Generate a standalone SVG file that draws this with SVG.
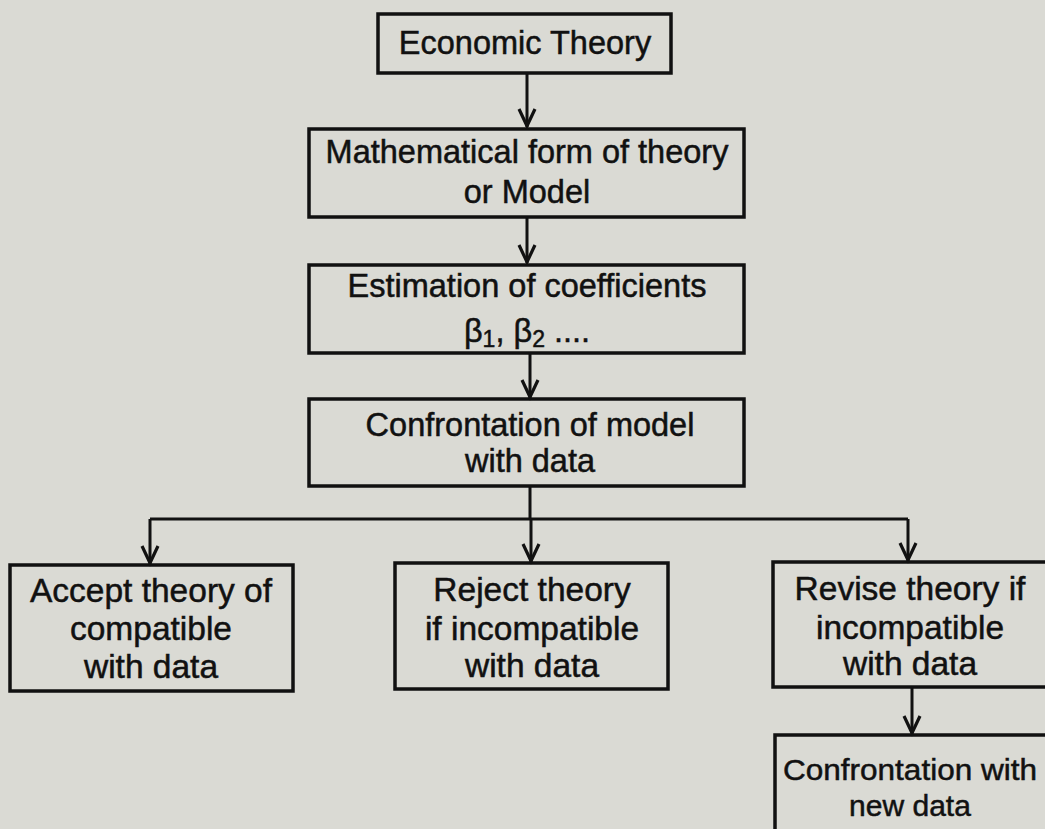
<svg xmlns="http://www.w3.org/2000/svg" width="1045" height="829" viewBox="0 0 1045 829">
<defs>
<style>
.box{fill:none;stroke:#111;stroke-width:3.5}
.t{font-family:"Liberation Sans",Arial,sans-serif;font-size:32.5px;fill:#111;stroke:#111;stroke-width:0.5;text-anchor:middle}
.b{font-size:33.5px}
.n{font-size:30px}
.c{fill:none;stroke:#111;stroke-width:3}
.h{fill:none;stroke:#111;stroke-width:3.2}
</style>
</defs>
<rect width="1045" height="829" fill="#dadad4"/>
<g id="connectors">
<line class="c" x1="527" y1="73" x2="527" y2="127"/>
<line class="c" x1="527" y1="218" x2="527" y2="263"/>
<line class="c" x1="530" y1="353" x2="530" y2="398"/>
<polyline class="c" points="530,487 530,519"/>
<polyline class="c" points="150,519 908,519"/>
<line class="c" x1="150" y1="519" x2="150" y2="564"/>
<line class="c" x1="531" y1="519" x2="531" y2="562"/>
<line class="c" x1="908" y1="519" x2="908" y2="561"/>
<line class="c" x1="912" y1="687" x2="912" y2="734"/>
<g class="h">
<polyline points="519,109 527,126 535,109"/>
<polyline points="519,245 527,262 535,245"/>
<polyline points="522,380 530,397 538,380"/>
<polyline points="142,546 150,563 158,546"/>
<polyline points="523,544 531,561 539,544"/>
<polyline points="900,543 908,560 916,543"/>
<polyline points="904,716 912,733 920,716"/>
</g>
</g>
<g id="economic-theory">
<rect class="box" x="378" y="14" width="293" height="59"/>
<text class="t" x="525" y="54">Economic Theory</text>
</g>
<g id="mathematical-form">
<rect class="box" x="309" y="129" width="435" height="88"/>
<text class="t" x="527" y="163">Mathematical form of theory</text>
<text class="t" x="527" y="203">or Model</text>
</g>
<g id="estimation">
<rect class="box" x="309" y="265" width="435" height="88"/>
<text class="t" x="527" y="297">Estimation of coefficients</text>
<text class="t" x="527" y="342">β<tspan font-size="23" dy="5">1</tspan><tspan dy="-5">, β</tspan><tspan font-size="23" dy="5">2</tspan><tspan dy="-5"> ....</tspan></text>
</g>
<g id="confrontation">
<rect class="box" x="309" y="399" width="435" height="87"/>
<text class="t" x="530" y="436">Confrontation of model</text>
<text class="t" x="530" y="472">with data</text>
</g>
<g id="accept">
<rect class="box" x="10" y="565" width="283" height="126"/>
<text class="t b" x="151" y="602">Accept theory of</text>
<text class="t b" x="151" y="640">compatible</text>
<text class="t b" x="151" y="678">with data</text>
</g>
<g id="reject">
<rect class="box" x="395" y="563" width="273" height="126"/>
<text class="t b" x="532" y="601">Reject theory</text>
<text class="t b" x="532" y="640">if incompatible</text>
<text class="t b" x="532" y="677">with data</text>
</g>
<g id="revise">
<rect class="box" x="773" y="562" width="280" height="125"/>
<text class="t b" x="910" y="600">Revise theory if</text>
<text class="t b" x="910" y="639">incompatible</text>
<text class="t b" x="910" y="675">with data</text>
</g>
<g id="new-data">
<rect class="box" x="775" y="735" width="280" height="110"/>
<text class="t n" x="910" y="780" textLength="254" lengthAdjust="spacingAndGlyphs">Confrontation with</text>
<text class="t n" x="910" y="816">new data</text>
</g>
</svg>
